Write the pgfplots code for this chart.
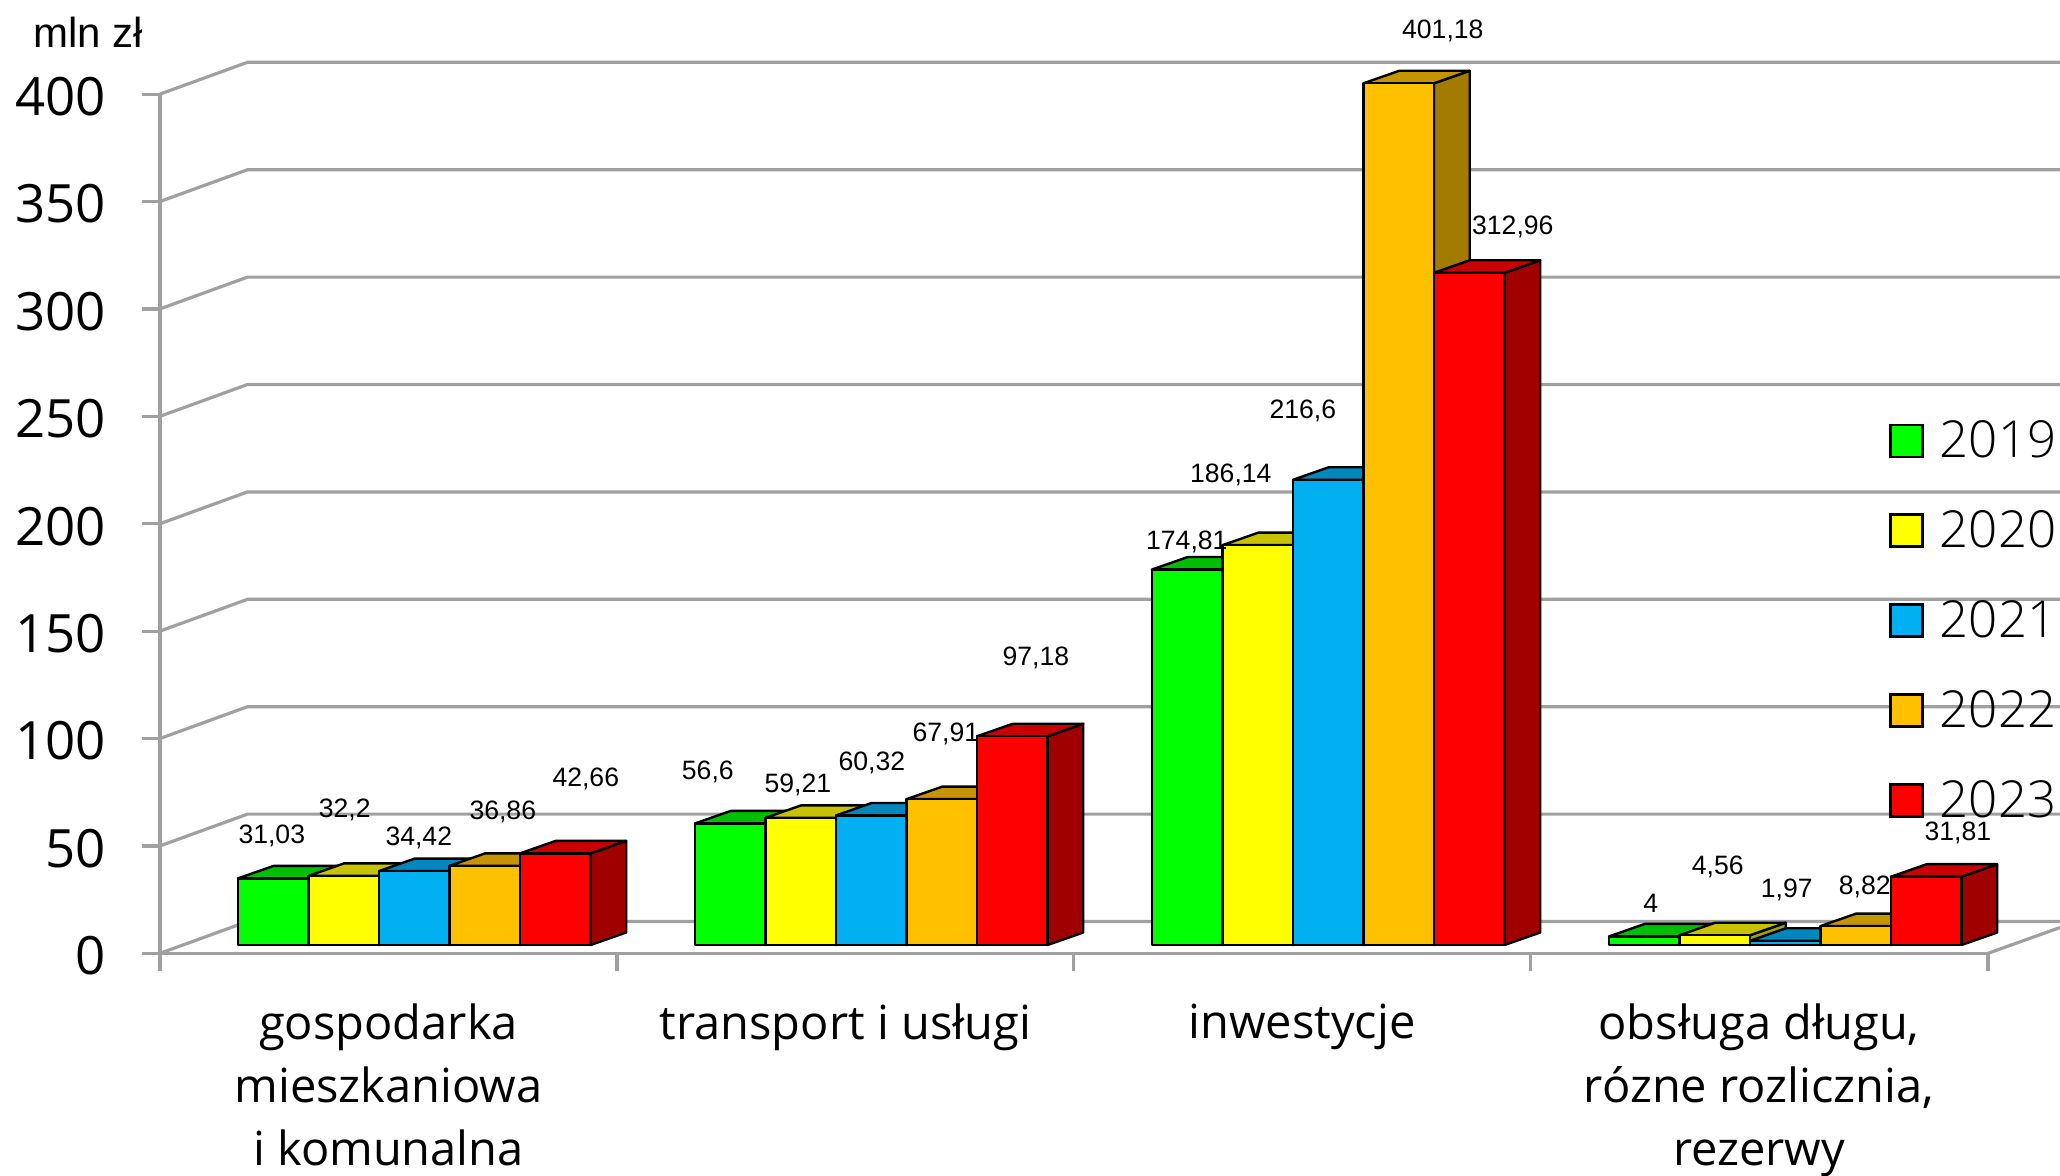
\documentclass[border=0pt]{standalone}
\usepackage{pgfplots}
\pgfplotsset{compat=1.18}
\usepackage{fontspec}
\setmainfont{Open Sans}
\newfontfamily\arialf{Liberation Sans}
\newfontfamily\oslight{Open Sans Light}

\definecolor{gridgray}{HTML}{A0A0A0}
\definecolor{c19}{HTML}{00FF00}\definecolor{c19top}{HTML}{00BE00}\definecolor{c19side}{HTML}{00A000}
\definecolor{c20}{HTML}{FFFF00}\definecolor{c20top}{HTML}{C8C300}\definecolor{c20side}{HTML}{A3A300}
\definecolor{c21}{HTML}{00B0F0}\definecolor{c21top}{HTML}{0088BC}\definecolor{c21side}{HTML}{0071A0}
\definecolor{c22}{HTML}{FFC000}\definecolor{c22top}{HTML}{C49500}\definecolor{c22side}{HTML}{A37B00}
\definecolor{c23}{HTML}{FF0000}\definecolor{c23top}{HTML}{C80000}\definecolor{c23side}{HTML}{A00000}

% x is in image pixels, y in mln zl; bars stand 3.86 above the axis floor
\newcommand{\threedbar}[3]{%
  \pgfmathsetmacro\xa{#1}\pgfmathsetmacro\xb{#1+70.5}%
  \pgfmathsetmacro\xc{#1+35.7}\pgfmathsetmacro\xd{#1+106.2}%
  \pgfmathsetmacro\ya{3.86}\pgfmathsetmacro\yb{3.86+5.82}%
  \pgfmathsetmacro\yt{#2+3.86}\pgfmathsetmacro\yu{#2+3.86+5.82}%
  \addplot[forget plot,draw=black,line width=1.2pt,line join=round,fill=#3side] coordinates {(\xb,\ya)(\xd,\yb)(\xd,\yu)(\xb,\yt)} --cycle;
  \addplot[forget plot,draw=black,line width=1.2pt,line join=round,fill=#3top] coordinates {(\xa,\yt)(\xb,\yt)(\xd,\yu)(\xc,\yu)} --cycle;
  \addplot[forget plot,draw=black,line width=1.2pt,line join=round,fill=#3] coordinates {(\xa,\ya)(\xb,\ya)(\xb,\yt)(\xa,\yt)} --cycle;
}
\newcommand{\groupbars}[6]{%
  \threedbar{#1}{#2}{c19}
  \threedbar{#1+70.5}{#3}{c20}
  \threedbar{#1+141}{#4}{c21}
  \threedbar{#1+211.5}{#5}{c22}
  \threedbar{#1+282}{#6}{c23}
}
\newcommand{\gridline}[2]{%
  \addplot[forget plot,gridgray,line width=1.6pt] coordinates {(160,#1)(247.5,#2)(2060,#2)};
}

\begin{document}
\begin{tikzpicture}
\useasboundingbox (0,0) rectangle (1030pt,587.5pt);
\begin{axis}[
  at={(80pt,110.85pt)}, anchor=south west,
  scale only axis, width=914pt, height=429.6pt,
  xmin=160, xmax=1988, ymin=0, ymax=400,
  clip=false,
  axis x line=bottom, axis y line=left,
  axis line style={gridgray,line width=1.6pt,-},
  tick style={gridgray,line width=1.6pt},
  tick align=outside, major tick length=9pt,
  ytick={0,50,...,400},
  xtick={160,617,1073.5,1530.5,1988},
  xticklabels={{gospodarka\\mieszkaniowa\\i komunalna},{transport i usługi},{inwestycje},{obsługa długu,\\rózne rozlicznia,\\rezerwy},{}},
  xticklabel style={font=\fontsize{23.5}{31.5}\selectfont,align=center,anchor=north,xshift=114.25pt,yshift=-12.6pt},
  yticklabel style={font=\fontsize{26.4}{30}\selectfont,xshift=-14.5pt,yshift=-1.3pt},
  /pgf/number format/assume math mode=true,
  legend image code/.code={\draw[#1,line width=1.2pt] (0pt,-8pt) rectangle (16pt,8pt);},
  legend cell align=left,
  legend style={at={(axis cs:1889,250)},anchor=north west,draw=none,fill=none,
    font=\oslight\fontsize{25.5}{30}\selectfont,row sep=21pt,inner sep=0pt,
    /tikz/every odd column/.append style={column sep=6pt}},
]
\gridline{0}{14.8}
\gridline{50}{64.8}
\gridline{100}{114.8}
\gridline{150}{164.8}
\gridline{200}{214.8}
\gridline{250}{264.8}
\gridline{300}{314.8}
\gridline{350}{364.8}
\gridline{400}{414.8}
\addplot[forget plot,gridgray,line width=1.6pt] coordinates {(1988,0)(2060,12)};

\groupbars{238}{31.03}{32.2}{34.42}{36.86}{42.66}
\groupbars{695}{56.6}{59.21}{60.32}{67.91}{97.18}
\groupbars{1152}{174.81}{186.14}{216.6}{401.18}{312.96}
\groupbars{1609}{4}{4.56}{1.97}{8.82}{31.81}

\addlegendimage{fill=c19,draw=black}\addlegendentry{2019}
\addlegendimage{fill=c20,draw=black}\addlegendentry{2020}
\addlegendimage{fill=c21,draw=black}\addlegendentry{2021}
\addlegendimage{fill=c22,draw=black}\addlegendentry{2022}
\addlegendimage{fill=c23,draw=black}\addlegendentry{2023}
\end{axis}
% labels placed by hand in image pixels
\begin{scope}[shift={(0,587.5pt)},x=0.5pt,y=-0.5pt,every node/.style={font=\arialf\fontsize{13.3}{15}\selectfont,inner sep=0pt,xshift=0.4pt,yshift=-0.7pt}]
\node[anchor=base west,font=\arialf\fontsize{21}{24}\selectfont] at (32,46) {mln zł};
\node at (271,835) {31,03};
\node at (344,809) {32,2};
\node at (418,837) {34,42};
\node at (502,811) {36,86};
\node at (585,778) {42,66};
\node at (707,771) {56,6};
\node at (797,784) {59,21};
\node at (871,762) {60,32};
\node at (945,733) {67,91};
\node at (1035,657) {97,18};
\node at (1186,541) {174,81};
\node at (1230,474) {186,14};
\node at (1302,410) {216,6};
\node at (1442,30) {401,18};
\node at (1512,226) {312,96};
\node at (1650,902) {4};
\node at (1717,866) {4,56};
\node at (1786,889) {1,97};
\node at (1864,886) {8,82};
\node at (1957,832) {31,81};
\end{scope}
\end{tikzpicture}
\end{document}
